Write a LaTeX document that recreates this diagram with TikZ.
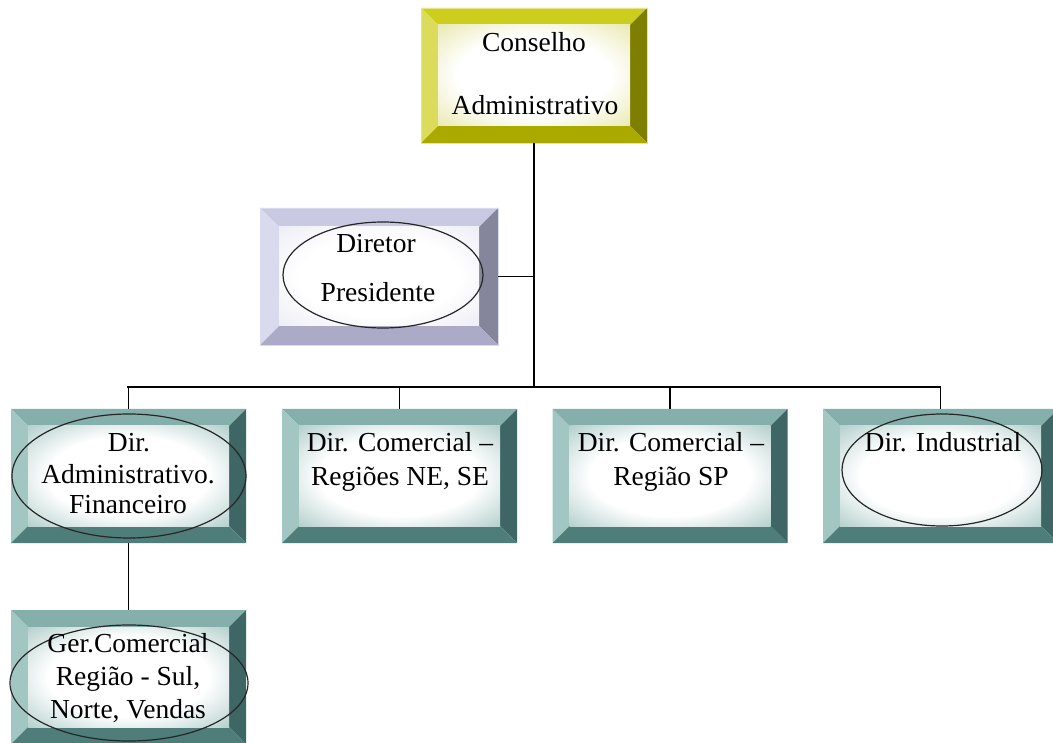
\documentclass[tikz,border=0pt]{standalone}
\usepackage{fontspec}
\setmainfont{Liberation Serif}
\usetikzlibrary{calc}

% bevel colours: top, left, right, bottom, face tint
\definecolor{tealT}{HTML}{85AFAB}
\definecolor{tealL}{HTML}{A2C7C3}
\definecolor{tealR}{HTML}{3E6664}
\definecolor{tealB}{HTML}{4F7D79}
\definecolor{tealF}{HTML}{A8C8C5}
\definecolor{yelT}{HTML}{CDCD1E}
\definecolor{yelL}{HTML}{DCDC5C}
\definecolor{yelR}{HTML}{7E7E00}
\definecolor{yelB}{HTML}{A9A900}
\definecolor{yelF}{HTML}{E6E6A6}
\definecolor{purT}{HTML}{C9C9E3}
\definecolor{purL}{HTML}{DADAEE}
\definecolor{purR}{HTML}{85859B}
\definecolor{purB}{HTML}{ABABC7}
\definecolor{purF}{HTML}{EAEAF4}

% radial face fill that stays white over the middle and tints towards the corners
\colorlet{facetint}{white}
\pgfdeclareradialshading[facetint]{facefade}{\pgfpoint{0bp}{0bp}}{%
  color(0bp)=(white); color(20bp)=(white); color(38bp)=(facetint); color(50bp)=(facetint)}

% bevelled frame drawn inside a node: #1 top, #2 left, #3 right, #4 bottom, #5 face tint, #6 bevel width (pt)
\newcommand\bevelpic[6]{%
  \fill[#1] (path picture bounding box.north west) -- (path picture bounding box.north east)
    -- ([shift={(-#6pt,-#6pt)}]path picture bounding box.north east)
    -- ([shift={(#6pt,-#6pt)}]path picture bounding box.north west) -- cycle;
  \fill[#2] (path picture bounding box.north west) -- (path picture bounding box.south west)
    -- ([shift={(#6pt,#6pt)}]path picture bounding box.south west)
    -- ([shift={(#6pt,-#6pt)}]path picture bounding box.north west) -- cycle;
  \fill[#3] (path picture bounding box.north east) -- (path picture bounding box.south east)
    -- ([shift={(-#6pt,#6pt)}]path picture bounding box.south east)
    -- ([shift={(-#6pt,-#6pt)}]path picture bounding box.north east) -- cycle;
  \fill[#4] (path picture bounding box.south west) -- (path picture bounding box.south east)
    -- ([shift={(-#6pt,#6pt)}]path picture bounding box.south east)
    -- ([shift={(#6pt,#6pt)}]path picture bounding box.south west) -- cycle;
  \colorlet{facetint}{#5}%
  \shade[shading=facefade]
    ([shift={(#6pt,-#6pt)}]path picture bounding box.north west)
    rectangle ([shift={(-#6pt,#6pt)}]path picture bounding box.south east);
}

\tikzset{
  tealbox/.style={minimum width=235pt, minimum height=134pt, inner sep=0pt,
    path picture={\bevelpic{tealT}{tealL}{tealR}{tealB}{tealF}{17}}},
  yelbox/.style={minimum width=226pt, minimum height=135pt, inner sep=0pt,
    draw=yelL!70!white, line width=0.8pt,
    path picture={\bevelpic{yelT}{yelL}{yelR}{yelB}{yelF}{17}}},
  purbox/.style={minimum width=238pt, minimum height=137pt, inner sep=0pt,
    draw=purL, line width=0.8pt,
    path picture={\bevelpic{purT}{purL}{purR}{purB}{purF}{19}}},
  lbl/.style={anchor=base, inner sep=0pt, font=\fontsize{27.5}{33}\selectfont},
  ring/.style={draw=black!85, line width=1.2pt},
  conn/.style={draw=black, line width=1.5pt},
}

\begin{document}
\begin{tikzpicture}[x=1pt,y=-1pt]
\useasboundingbox (0,0) rectangle (1053,743);
\clip (0,0) rectangle (1053,743);
\fill[white] (0,0) rectangle (1053,743);

% boxes
\node[yelbox] (cons) at (534,75.5) {};
\node[purbox] (dir)  at (379,276.5) {};
\node[tealbox] (adm) at (128.5,476) {};
\node[tealbox] (cne) at (399.5,476) {};
\node[tealbox] (csp) at (670,476) {};
\node[tealbox] (ind) at (940.5,476) {};
\node[tealbox] (ger) at (128.5,677) {};

% ellipses
\draw[ring] (383,275) ellipse [x radius=100, y radius=53];
\draw[ring] (129,476) ellipse [x radius=117, y radius=62];
\draw[ring] (942,470) ellipse [x radius=100, y radius=56];
\draw[ring] (129,683) ellipse [x radius=119, y radius=58];

% connectors
\coordinate (busL) at (127,387);
\coordinate (busR) at (941,387);
\draw[conn] (cons.south) -- (cons.south |- busL);
\draw[conn] (busL) -- (busR);
\draw[conn] (dir.east) -- (dir.east -| cons.south);
\draw[conn] (adm.north) -- (adm.north |- busL);
\draw[conn] (cne.north) -- (cne.north |- busL);
\draw[conn] (csp.north) -- (csp.north |- busL);
\draw[conn] (ind.north) -- (ind.north |- busL);
\draw[conn] (adm.south) -- (ger.north);

% labels
\node[lbl] (t1) at (534,52) {Conselho};
\node[lbl] (t2) at (535,115) {Administrativo};
\node[lbl] (t3) at (376,253) {Diretor};
\node[lbl] (t4) at (378,302) {Presidente};
\node[lbl] (t5) at (129,452) {Dir.};
\node[lbl] (t6) at (128,483) {Administrativo.};
\node[lbl] (t7) at (128,513) {Financeiro};
\node[lbl] (t8) at (400,452) {Dir. Comercial –};
\node[lbl] (t9) at (400,485) {Regiões NE, SE};
\node[lbl] (t10) at (671,452) {Dir. Comercial –};
\node[lbl] (t11) at (671,485) {Região SP};
\node[lbl] (t12) at (943,452) {Dir. Industrial};
\node[lbl] (t13) at (128,652) {Ger.Comercial};
\node[lbl] (t14) at (128,685) {Região - Sul,};
\node[lbl] (t15) at (128,718) {Norte, Vendas};
\end{tikzpicture}
\end{document}
